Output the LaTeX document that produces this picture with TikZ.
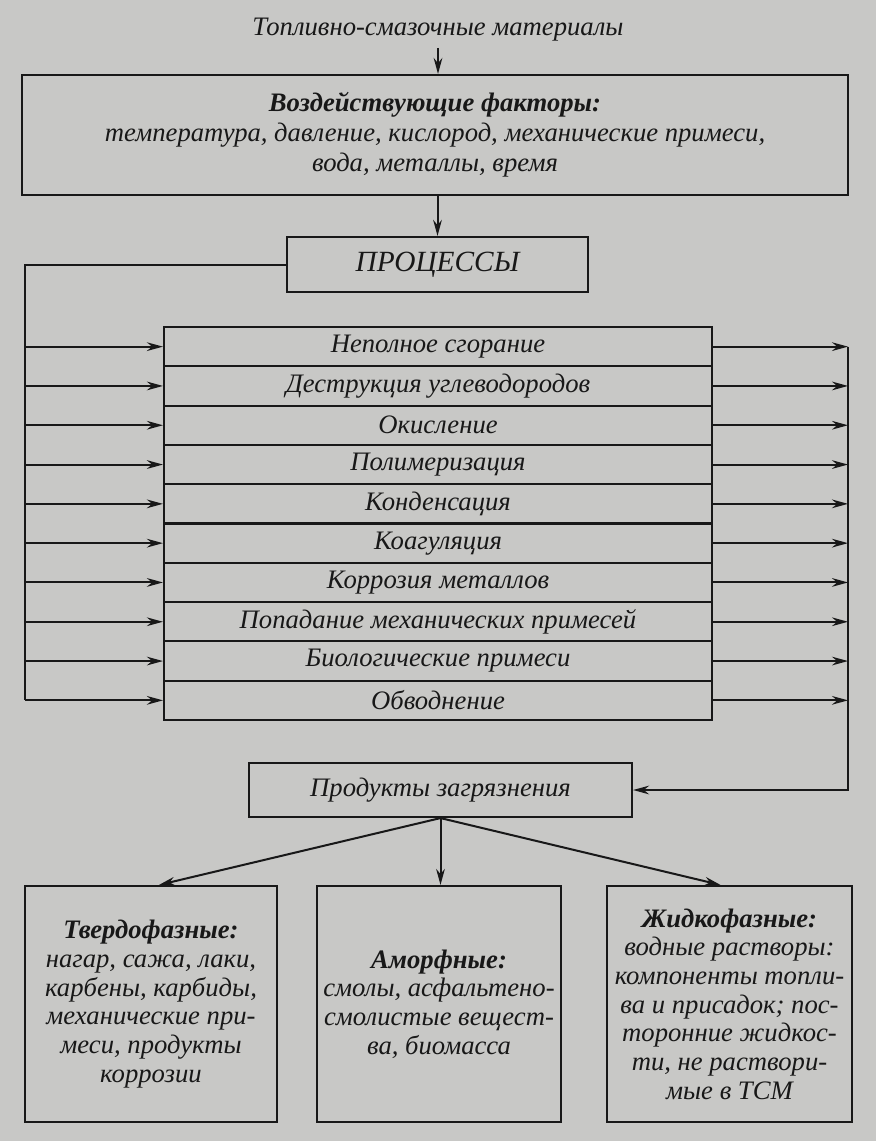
\documentclass[tikz,border=0pt]{standalone}
\usepackage{fontspec}
\setmainfont{Liberation Serif}
\usetikzlibrary{arrows.meta,calc}
\definecolor{bg}{RGB}{200,200,198}
\definecolor{ink}{RGB}{24,24,24}
\begin{document}
\begin{tikzpicture}[x=0.75pt,y=-0.75pt,
  box/.style={draw=ink, line width=1.6pt, inner sep=0pt, align=center, text=ink,
    font=\itshape\fontsize{20}{21.5}\selectfont},
  txt/.style={inner sep=0pt, align=center, text=ink, font=\itshape\fontsize{20}{21.5}\selectfont},
  arr/.style={draw=ink, line width=1.5pt, -{Stealth[length=12pt,width=6.5pt]}},
  ln/.style={draw=ink, line width=1.5pt}]
\fill[bg] (0,0) rectangle (876,1141);
\useasboundingbox (0,0) rectangle (876,1141);

\node[txt] (tsm) at (438,30) {Топливно-смазочные материалы};
\node[box, minimum width=619.5pt, minimum height=90pt, font=\itshape\fontsize{20}{22.5}\selectfont] (fac) at (435,135)
  {\textbf{Воздействующие факторы:}\\ температура, давление, кислород, механические примеси,\\ вода, металлы, время};
\node[box, minimum width=225.75pt, minimum height=41.25pt, font=\itshape\fontsize{22}{24}\selectfont] (proc) at (437.5,264.5) {ПРОЦЕССЫ};

\foreach \t [count=\i] in {Неполное сгорание, Деструкция углеводородов, Окисление, Полимеризация, Конденсация, Коагуляция, Коррозия металлов, Попадание механических примесей, Биологические примеси, Обводнение}{
  \node[box, minimum width=411pt, minimum height=29.5pt] (r\i) at (438,{327+39.3*(\i-0.5)}) {\t};
  \coordinate (L\i) at (25,{327+39.3*(\i-0.5)});
  \coordinate (R\i) at (848,{327+39.3*(\i-0.5)});
  \draw[arr] (L\i) -- (r\i.west);
  \draw[arr] (r\i.east) -- (R\i);
}

\node[box, minimum width=287.25pt, minimum height=40.5pt] (prod) at (440.5,790) {Продукты загрязнения};

\node[box, minimum width=189pt, minimum height=177pt] (b1) at (151,1004)
  {\textbf{Твердофазные:}\\ нагар, сажа, лаки,\\ карбены, карбиды,\\ механические при-\\ меси, продукты\\ коррозии};
\node[box, minimum width=183pt, minimum height=177pt] (b2) at (439,1004)
  {\textbf{Аморфные:}\\ смолы, асфальтено-\\ смолистые вещест-\\ ва, биомасса};
\node[box, minimum width=183.75pt, minimum height=177pt] (b3) at (729.5,1004)
  {\textbf{Жидкофазные:}\\ водные растворы:\\ компоненты топли-\\ ва и присадок; пос-\\ торонние жидкос-\\ ти, не раствори-\\ мые в ТСМ};

\draw[arr] (tsm.south) ++(0,6) -- (tsm.south |- fac.north);
\draw[arr] (proc.north |- fac.south) -- (proc.north);
\draw[ln] (proc.west) -| (L10);
\draw[arr] (R1) |- (prod.east);
\draw[arr] (prod.south) -- ($(b1.north)+(8,0)$);
\draw[arr] (prod.south) -- (prod.south |- b2.north);
\draw[arr] (prod.south) -- ($(b3.north)+(-9,0)$);
\end{tikzpicture}
\end{document}
